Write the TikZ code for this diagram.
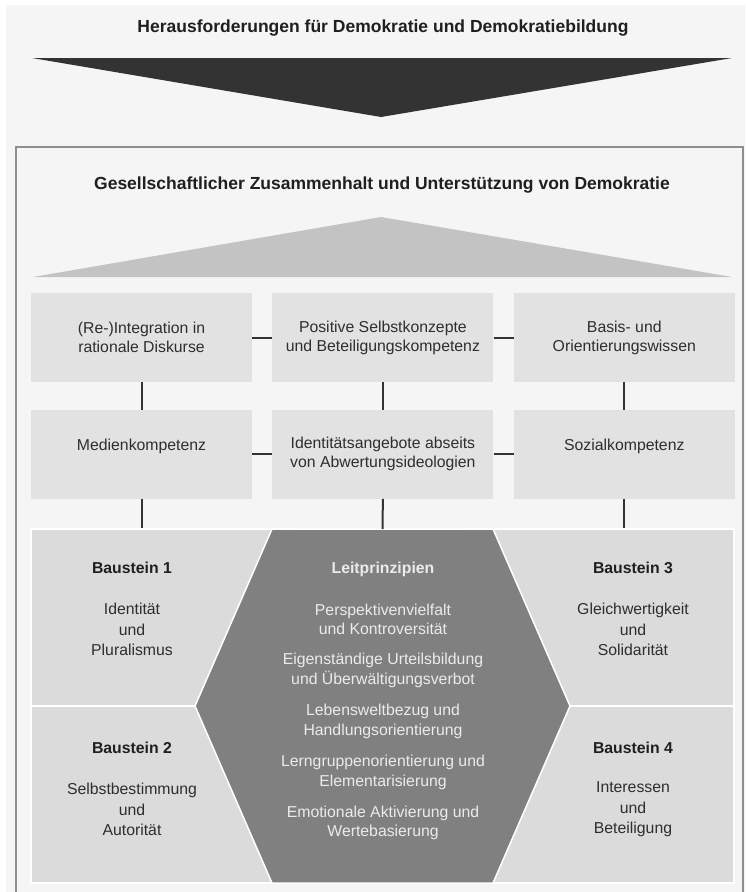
\documentclass[tikz,border=0pt]{standalone}
\usepackage{fontspec}
\setmainfont{Liberation Sans}
\usepackage{tikz}
\usetikzlibrary{positioning}
\definecolor{pagegrey}{HTML}{F5F5F5}
\definecolor{framegrey}{HTML}{8E8E8E}
\definecolor{arrowdark}{HTML}{333333}
\definecolor{roofgrey}{HTML}{C3C3C3}
\definecolor{boxgrey}{HTML}{E2E2E2}
\definecolor{stonegrey}{HTML}{DBDBDB}
\definecolor{hexgrey}{HTML}{808080}
\definecolor{inkgrey}{HTML}{2E2E2E}
\definecolor{hextext}{HTML}{EBEBEB}
\tikzset{
  titletext/.style={
    font=\bfseries\fontsize{17.5}{20}\selectfont,
    text=black!88,
    anchor=base
  },
  goalbox/.style={
    fill=boxgrey,
    minimum width=221pt,
    minimum height=88.5pt,
    inner sep=0pt,
    align=center,
    text=inkgrey,
    font=\fontsize{15.8}{19}\selectfont
  },
  stonebox/.style={
    fill=stonegrey,
    draw=white,
    line width=1.5pt,
    minimum width=269pt,
    minimum height=177pt,
    inner sep=0pt
  },
  stonehead/.style={
    text=black!88,
    font=\bfseries\fontsize{15.8}{19}\selectfont
  },
  stonetext/.style={
    align=center,
    text=inkgrey,
    font=\fontsize{15.8}{20.5}\selectfont
  },
  principle/.style={
    align=center,
    text=hextext,
    font=\fontsize{15.8}{19.5}\selectfont
  },
  link/.style={
    draw=arrowdark,
    line width=2pt
  }
}

\begin{document}
\begin{tikzpicture}[x=1pt, y=-1pt, node distance=28pt and 20pt]
\useasboundingbox (0,0) rectangle (745,892);
\clip (0,0) rectangle (745,892);
\fill[white] (0,0) rectangle (745,892);
\fill[pagegrey] (6,5) rectangle (745,892);

% challenges on top
\node[titletext] (challenge) at (383,32) {Herausforderungen für Demokratie und Demokratiebildung};
\fill[arrowdark] (32,58) -- (732,58) -- (381,117) -- cycle;

% frame with roof
\draw[framegrey, line width=2pt] (16,900) -- (16,146.5) -- (743,146.5) -- (743,900);
\node[titletext] (cohesion) at (382,189) {Gesellschaftlicher Zusammenhalt und Unterstützung von Demokratie};
\fill[roofgrey] (33,277) -- (381,217) -- (732,277) -- cycle;

% goals
\node[goalbox] (discourse) at (141.5,337.5) {(Re-)Integration in\\rationale Diskurse};
\node[goalbox, right=of discourse] (selfconcept) {Positive Selbstkonzepte\\und Beteiligungskompetenz};
\node[goalbox, right=of selfconcept] (knowledge) {Basis- und\\Orientierungswissen};
\node[goalbox, below=of discourse] (media) {Medienkompetenz\\\mbox{}};
\node[goalbox, below=of selfconcept] (identity) {Identitätsangebote abseits\\von Abwertungsideologien};
\node[goalbox, below=of knowledge] (social) {Sozialkompetenz\\\mbox{}};

% building blocks
\node[stonebox] (stone1) at (165.5,617.5) {};
\node[stonebox] (stone2) at (165.5,794.5) {};
\node[stonebox] (stone3) at (599.5,617.5) {};
\node[stonebox] (stone4) at (599.5,794.5) {};
\fill[hexgrey, draw=white, line width=1.5pt]
  (272,529) -- (493,529) -- (570,706) -- (493,883) -- (272,883) -- (195,706) -- cycle;
\coordinate (hextop) at (382.5,529);

\node[stonehead] (head1) at (132,568) {Baustein 1};
\node[stonetext] (unit1) at (132,629.5) {Identität\\und\\Pluralismus};
\node[stonehead] (head2) at (132,748) {Baustein 2};
\node[stonetext] (unit2) at (132,809.5) {Selbstbestimmung\\und\\Autorität};
\node[stonehead] (head3) at (633,568) {Baustein 3};
\node[stonetext] (unit3) at (633,629.5) {Gleichwertigkeit\\und\\Solidarität};
\node[stonehead] (head4) at (633,748) {Baustein 4};
\node[stonetext] (unit4) at (633,809.5) {Interessen\\und\\Beteiligung};

% guiding principles
\node[principle, font=\bfseries\fontsize{15.8}{19}\selectfont] (guide) at (383,569) {Leitprinzipien};
\foreach \y/\t [count=\i] in {619.5/{Perspektivenvielfalt\\und Kontroversität},
    670.5/{Eigenständige Urteilsbildung\\und Überwältigungsverbot},
    721.5/{Lebensweltbezug und\\Handlungsorientierung},
    772.5/{Lerngruppenorientierung und\\Elementarisierung},
    823/{Emotionale Aktivierung und\\Wertebasierung}} {
  \node[principle] (rule\i) at (383,\y) {\t};
}

% connectors
\foreach \a/\b in {discourse/selfconcept,selfconcept/knowledge,media/identity,identity/social,
    discourse/media,selfconcept/identity,knowledge/social} {
  \draw[link] (\a) -- (\b);
}
\draw[link] (media.south) -- (media.south |- stone1.north);
\draw[link] (identity.south) -- (hextop);
\draw[link] (social.south) -- (social.south |- stone3.north);
\end{tikzpicture}
\end{document}
